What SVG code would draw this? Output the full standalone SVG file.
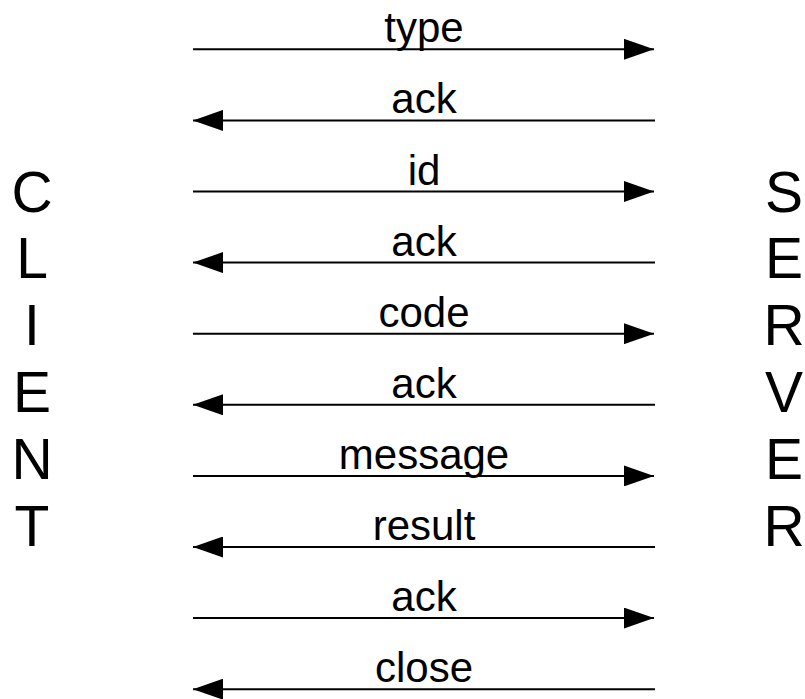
<svg xmlns="http://www.w3.org/2000/svg" width="805" height="699" viewBox="0 0 805 699">
<style>
.msg{font-family:"Liberation Sans",Arial,sans-serif;font-size:42px;fill:#000;text-anchor:middle}
.side{font-family:"Liberation Sans",Arial,sans-serif;font-size:57px;fill:#000;text-anchor:middle}
.ln{stroke:#000;stroke-width:2;fill:none;marker-end:url(#ah)}
</style>
<defs>
<marker id="ah" viewBox="0 0 30 21" refX="30" refY="10.5" markerWidth="30" markerHeight="21" markerUnits="userSpaceOnUse" orient="auto">
<polygon points="0,0 30,10.5 0,21" fill="#000"/>
</marker>
</defs>
<rect width="805" height="699" fill="#fff"/>
<g id="client">
<text class="side" x="32" y="211.5">C</text>
<text class="side" x="32" y="278">L</text>
<text class="side" x="32" y="345">I</text>
<text class="side" x="32" y="412">E</text>
<text class="side" x="32" y="479">N</text>
<text class="side" x="32" y="546">T</text>
</g>
<g id="server">
<text class="side" x="784" y="211.5">S</text>
<text class="side" x="784" y="278">E</text>
<text class="side" x="784" y="345">R</text>
<text class="side" x="784" y="412">V</text>
<text class="side" x="784" y="479">E</text>
<text class="side" x="784" y="546">R</text>
</g>
<g id="connectors">
<path class="ln" d="M193,49.3H654"/>
<path class="ln" d="M655,120.4H193"/>
<path class="ln" d="M193,191.5H654"/>
<path class="ln" d="M655,262.6H193"/>
<path class="ln" d="M193,333.7H654"/>
<path class="ln" d="M655,404.8H193"/>
<path class="ln" d="M193,475.9H654"/>
<path class="ln" d="M655,547H193"/>
<path class="ln" d="M193,618.1H654"/>
<path class="ln" d="M655,689.2H193"/>
</g>
<g id="labels">
<text class="msg" x="424" y="42">type</text>
<text class="msg" x="424" y="113">ack</text>
<text class="msg" x="424" y="184.5">id</text>
<text class="msg" x="424" y="255.5">ack</text>
<text class="msg" x="424" y="326.5">code</text>
<text class="msg" x="424" y="397.5">ack</text>
<text class="msg" x="424" y="468.5">message</text>
<text class="msg" x="424" y="540">result</text>
<text class="msg" x="424" y="611">ack</text>
<text class="msg" x="424" y="682">close</text>
</g>
</svg>
